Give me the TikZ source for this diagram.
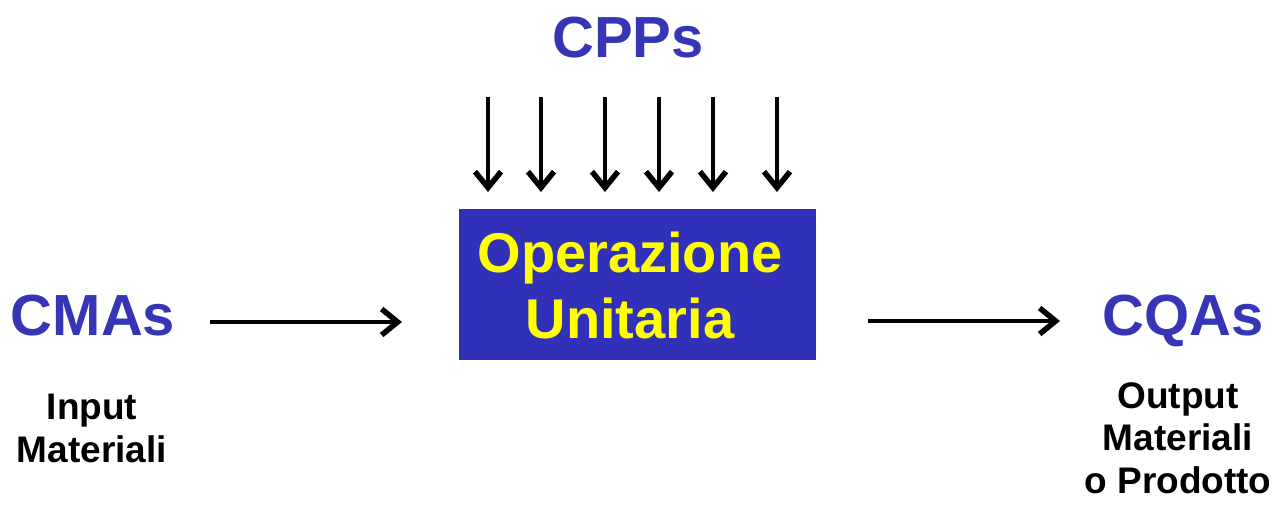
\documentclass[tikz,border=0pt]{standalone}
\usepackage{fontspec}
\setmainfont{Liberation Sans}
\usetikzlibrary{arrows.meta}
\definecolor{procblue}{HTML}{3030B8}
\definecolor{labelblue}{HTML}{3535B5}
\definecolor{procyellow}{HTML}{FFFF00}
\begin{document}
\begin{tikzpicture}[x=1pt,y=-1pt,
  flow/.style={line width=4.5pt,-{Straight Barb[length=16pt,width=26pt,line width=5.5pt]}},
  bigtag/.style={font=\bfseries\fontsize{58}{58}\selectfont,text=labelblue,inner sep=0pt,anchor=base},
  smalltag/.style={font=\bfseries\fontsize{37}{42.5}\selectfont,align=center,inner sep=0pt,anchor=base},
  procbox/.style={fill=procblue,draw=none,minimum width=357pt,minimum height=151pt,inner sep=0pt},
  proctext/.style={text=procyellow,font=\bfseries\fontsize{56}{66}\selectfont,align=center,inner sep=0pt,anchor=base}]
\useasboundingbox (0,0) rectangle (1288,507);

% unit operation block
\node[procbox] (op) at (637.5,284.5) {};
\node[proctext] (opt) at (630,338) {Operazione\\Unitaria};

% parameter, attribute labels
\node[bigtag] (cpp) at (628,57) {CPPs};
\node[bigtag] (cma) at (93,335) {CMAs};
\node[bigtag] (cqa) at (1183,335) {CQAs};

% anchors sit on the baseline of the last line
\node[smalltag] (inp) at (92,462) {Input\\Materiali};
\node[smalltag] (outp) at (1178,493) {Output\\Materiali\\o Prodotto};

% material flow in and out
\coordinate (inS) at (210,322);
\coordinate (inE) at (402,322);
\coordinate (outS) at (868,321);
\coordinate (outE) at (1060,321);
\draw[flow] (inS) -- (inE);
\draw[flow] (outS) -- (outE);

% process parameters acting on the operation
\foreach \i/\xx in {1/488,2/541,3/605,4/659,5/713,6/777}{
  \coordinate (p\i) at (\xx,97);
  \coordinate (q\i) at (\xx,192);
  \draw[flow] (p\i) -- (q\i);
}
\end{tikzpicture}
\end{document}
